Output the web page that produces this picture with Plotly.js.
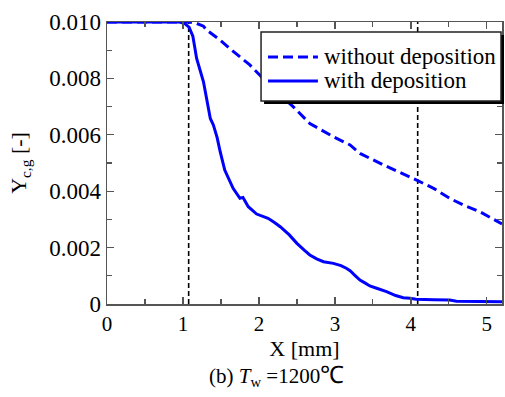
<!DOCTYPE html>
<html>
<head>
<meta charset="utf-8">
<script src="https://cdn.plot.ly/plotly-3.0.1.min.js"></script>
<style>html,body{margin:0;padding:0;background:#fff;}#chart{width:505px;height:397px;}</style>
</head>
<body>
<div id="chart"></div>
<script>
// Series: without deposition (dashed)
var xWithout = [0, 0.5, 1.0, 1.07, 1.18, 1.27, 1.31, 1.49, 1.62, 1.75, 1.88, 2.01, 2.2, 2.45, 2.67, 2.98, 3.2, 3.33, 3.5, 3.64, 4.07, 4.3, 4.51, 4.7, 4.91, 5.2];
var yWithout = [0.0100, 0.0100, 0.0100, 0.0100, 0.00995, 0.00985, 0.00972, 0.00936, 0.00905, 0.00878, 0.00848, 0.00812, 0.0076, 0.0070, 0.0064, 0.00593, 0.00564, 0.00534, 0.0051, 0.00493, 0.0044, 0.0041, 0.00375, 0.0035, 0.00327, 0.00284];
// Series: with deposition (solid)
var xWith = [0, 0.5, 0.95, 1.02, 1.08, 1.13, 1.18, 1.27, 1.32, 1.36, 1.40, 1.45, 1.49, 1.55, 1.66, 1.75, 1.79, 1.86, 1.97, 2.05, 2.12, 2.2, 2.28, 2.4, 2.5, 2.6, 2.67, 2.76, 2.85, 2.98, 3.08, 3.15, 3.2, 3.27, 3.33, 3.4, 3.46, 3.55, 3.68, 3.8, 3.9, 3.99, 4.07, 4.3, 4.51, 4.6, 4.86, 4.9, 5.2];
var yWith = [0.0100, 0.0100, 0.0100, 0.00995, 0.00982, 0.00950, 0.00871, 0.00788, 0.0072, 0.00658, 0.00635, 0.0059, 0.0054, 0.00475, 0.0041, 0.00375, 0.00378, 0.00345, 0.00319, 0.0031, 0.00304, 0.0029, 0.00274, 0.00245, 0.00215, 0.0019, 0.00174, 0.0016, 0.0015, 0.00144, 0.00136, 0.00127, 0.00118, 0.001, 0.00085, 0.00074, 0.00064, 0.00056, 0.00044, 0.0003, 0.00022, 0.0002, 0.00017, 0.00015, 0.00014, 0.0001, 0.0001, 0.00008, 0.00008];
// Reference vertical lines
var refX = [1.075, 4.09];
var refY = [0, 0.010];
// Tick labels
var xTickVals = [0, 1, 2, 3, 4, 5];
var xTickText = ["0", "1", "2", "3", "4", "5"];
var yTickVals = [0, 0.002, 0.004, 0.006, 0.008, 0.010];
var yTickText = ["0", "0.002", "0.004", "0.006", "0.008", "0.010"];
var seriesNames = ["without deposition", "with deposition"];

var serif = "Liberation Serif";
var blueDash = "10px,5px";
var traces = [];
refX.forEach(function (rx) {
  traces.push({x: [rx, rx], y: refY, mode: "lines", showlegend: false, hoverinfo: "skip",
    line: {color: "black", width: 1.6, dash: "5px,3px"}});
});
traces.push({x: xWithout, y: yWithout, mode: "lines", name: seriesNames[0], showlegend: false,
  line: {color: "#0000ff", width: 3, dash: blueDash}});
traces.push({x: xWith, y: yWith, mode: "lines", name: seriesNames[1], showlegend: false,
  line: {color: "#0000ff", width: 3}});

var axisCommon = {showline: true, linecolor: "#555", linewidth: 1.5, mirror: "allticks",
  ticks: "inside", ticklen: 7, tickwidth: 1.3, tickcolor: "#555", showgrid: false, zeroline: false};

// legend box (paper coords)
var lg = {x0: 0.39, x1: 0.9975, y0: 0.72, y1: 0.9645, sx: 0.0076, sy: 0.0106,
  lineX0: 0.4076, lineX1: 0.534, textX: 0.5443, rows: [0.8759, 0.7908]};

var shapes = [
  {type: "rect", xref: "paper", yref: "paper", x0: lg.x0 + lg.sx, x1: lg.x1 + lg.sx, y0: lg.y0 - lg.sy, y1: lg.y1 - lg.sy,
    fillcolor: "black", line: {width: 0}, layer: "above"},
  {type: "rect", xref: "paper", yref: "paper", x0: lg.x0, x1: lg.x1, y0: lg.y0, y1: lg.y1,
    fillcolor: "white", line: {width: 1.5, color: "#222"}, layer: "above"},
  {type: "line", xref: "paper", yref: "paper", x0: lg.lineX0, x1: lg.lineX1, y0: lg.rows[0], y1: lg.rows[0],
    line: {color: "#0000ff", width: 3, dash: blueDash}, layer: "above"},
  {type: "line", xref: "paper", yref: "paper", x0: lg.lineX0, x1: lg.lineX1, y0: lg.rows[1], y1: lg.rows[1],
    line: {color: "#0000ff", width: 3}, layer: "above"}
];

var annotations = [
  {xref: "paper", yref: "paper", x: lg.textX, y: lg.rows[0], xanchor: "left", yanchor: "middle", showarrow: false,
    text: seriesNames[0], font: {family: serif, size: 23, color: "black"}},
  {xref: "paper", yref: "paper", x: lg.textX, y: lg.rows[1], xanchor: "left", yanchor: "middle", showarrow: false,
    text: seriesNames[1], font: {family: serif, size: 23, color: "black"}},
  {xref: "paper", yref: "paper", x: 0.253, y: -0.2, xanchor: "left", yanchor: "top",
    showarrow: false, text: "(b) <i>T</i><sub>w</sub> =1200<span style=\"font-size:24px\">℃</span>",
    font: {family: serif, size: 21, color: "black"}}
];

var layout = {
  width: 505, height: 397,
  margin: {l: 107, r: 3, t: 22, b: 93},
  paper_bgcolor: "white", plot_bgcolor: "white",
  font: {family: serif, color: "black"},
  showlegend: false,
  xaxis: Object.assign({}, axisCommon, {range: [0, 5.2], tickvals: xTickVals, ticktext: xTickText,
    tickfont: {family: serif, size: 21, color: "black"},
    minor: {dtick: 0.5, ticks: "inside", ticklen: 5, tickcolor: "#555", tickwidth: 1.2},
    title: {text: "X [mm]", font: {family: serif, size: 22, color: "black"}, standoff: 0}}),
  yaxis: Object.assign({}, axisCommon, {range: [0, 0.010], tickvals: yTickVals, ticktext: yTickText,
    tickfont: {family: serif, size: 23, color: "black"},
    minor: {dtick: 0.001, ticks: "inside", ticklen: 5, tickcolor: "#555", tickwidth: 1.2},
    title: {text: "Y<sub>c,g</sub> [-]", font: {family: serif, size: 22, color: "black"}, standoff: 16}}),
  shapes: shapes,
  annotations: annotations
};
Plotly.newPlot("chart", traces, layout, {displayModeBar: false, staticPlot: true});
</script>
</body>
</html>
